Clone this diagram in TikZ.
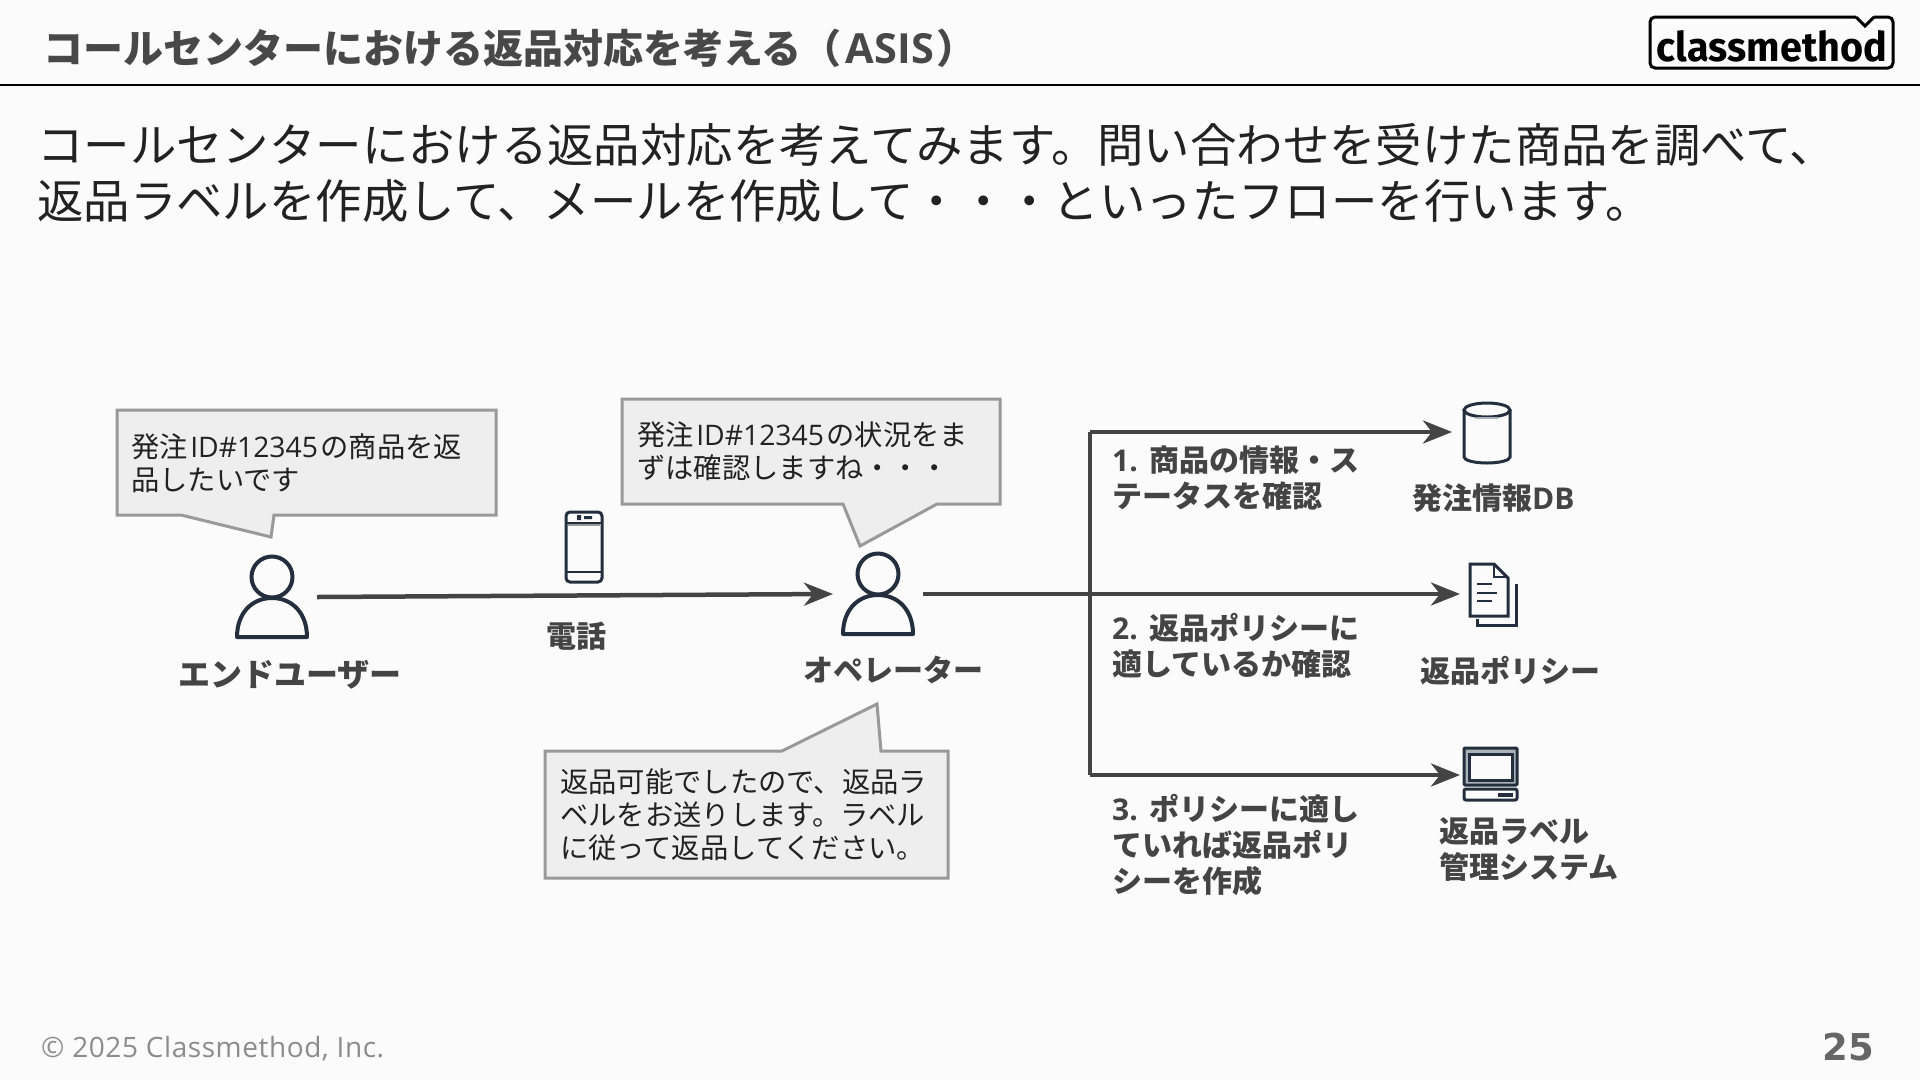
\documentclass[tikz,border=0pt]{standalone}
\usepackage{fontspec}
\usepackage{xcolor}
\usetikzlibrary{arrows.meta}
\setmainfont{Open Sans}
\newfontfamily\jp{Noto Sans CJK JP}
\newfontfamily\logofont{Fira Sans}
\newfontfamily\pagefont{DejaVu Sans}
\definecolor{pagebg}{RGB}{251,251,251}
\definecolor{titlegray}{RGB}{72,72,72}
\definecolor{bodyblack}{RGB}{34,34,34}
\definecolor{flowgray}{RGB}{68,68,68}
\definecolor{boxfill}{RGB}{238,238,238}
\definecolor{boxline}{RGB}{153,153,153}
\definecolor{iconink}{RGB}{35,47,62}
\definecolor{bezel}{RGB}{170,177,185}
\definecolor{footgray}{RGB}{140,140,140}
\definecolor{pagegray}{RGB}{102,102,102}
\tikzset{
    flow/.style={draw=flowgray, line width=4.5pt, -{Stealth[length=29pt,width=23pt,inset=9pt]}},
    trunk/.style={draw=flowgray, line width=4.5pt},
    bubble/.style={draw=boxline, fill=boxfill, line width=3pt, line join=miter},
    bubbletext/.style={anchor=west, inner sep=0pt, align=left, text=bodyblack, font=\jp\fontsize{28.3}{33}\selectfont},
    steplabel/.style={anchor=west, inner sep=0pt, align=left, text=flowgray, font=\jp\bfseries\fontsize{30}{36}\selectfont},
    icon/.style={draw=iconink, line width=3pt},
    pics/personicon/.style={code={
        \draw[icon, line width=4pt] (0,0) circle (20.5);
        \draw[icon, line width=4pt, line join=round] (-35,60) .. controls (-35,36) and (-20,21) .. (0,21) .. controls (20,21) and (35,36) .. (35,60) -- cycle;
        \coordinate (-left) at (-45,20);
        \coordinate (-right) at (45,20);
    }},
    pics/phoneicon/.style={code={
        \draw[icon, rounded corners=4pt] (-18,-35) rectangle (18,35);
        \draw[icon, line width=2pt] (-17,-24) -- (17,-24) (-17,25) -- (17,25);
        \fill[boxline] (-16,-23) rectangle (16,-21);
        \fill[iconink] (-7,-32) rectangle (-3,-27) (0,-31) rectangle (8,-28);
    }},
    pics/dbicon/.style={code={
        \draw[icon] (-23,0) -- (-23,47) arc[start angle=180, end angle=360, x radius=23, y radius=-6] -- (23,0);
        \draw[icon] (0,0) ellipse (23 and 7);
        \draw[bezel, line width=2pt] (-11,8) -- (11,8);
        \coordinate (-left) at (-35,22);
    }},
    pics/docicon/.style={code={
        \draw[icon, line join=miter] (0,0) -- (24,0) -- (38,14) -- (38,52) -- (0,52) -- cycle;
        \draw[icon, line width=2pt] (24,0) -- (24,13) -- (38,13);
        \draw[icon, line join=miter] (46,20) -- (46,61) -- (7,61) -- (7,55);
        \draw[icon, line width=2pt] (7,20) -- (22,20) (7,29) -- (27,29) (7,37) -- (22,37);
        \coordinate (-left) at (-10,30);
    }},
    pics/pcicon/.style={code={
        \draw[icon, fill=bezel, rounded corners=1pt] (0,0) rectangle (53,37);
        \draw[icon, fill=pagebg] (5,6) rectangle (48,32);
        \draw[icon, rounded corners=2pt] (0,41) rectangle (53,52);
        \fill[iconink] (34,45) rectangle (49,49);
        \coordinate (-left) at (-4,27);
    }},
}
\begin{document}
\begin{tikzpicture}[x=1pt, y=-1pt]
\useasboundingbox (0,0) rectangle (1920,1080);
\fill[pagebg] (0,0) rectangle (1920,1080);

\node[anchor=west, inner sep=0pt, text=titlegray, font=\bfseries\fontsize{40}{48}\selectfont] (title) at (43,48)
    {{\jp コールセンターにおける返品対応を考える（}\kern4pt{\fontsize{41.5}{48}\selectfont ASIS}\kern2pt{\jp ）}};
\draw[black, line width=1.5pt] (0,85) -- (1920,85);

\draw[black, line width=3pt, rounded corners=5pt] (1856,17) -- (1650,17) -- (1650,68) -- (1893,68) -- (1893,17) -- (1874,17);
\draw[black, line width=3pt, line join=miter] (1856,17) -- (1865,26) -- (1874,17);
\node[inner sep=0pt, text=black, font=\logofont\bfseries] (logo) at (1772,46)
    {\resizebox{230pt}{31pt}{classmethod}};

\node[anchor=west, inner sep=0pt, align=left, text=bodyblack, font=\jp\fontsize{46.4}{56}\selectfont] (lead) at (37,173)
    {コールセンターにおける返品対応を考えてみます。問い合わせを受けた商品を調べて、\\
     返品ラベルを作成して、メールを作成して・・・といったフローを行います。};

\draw[bubble] (117,410) -- (496,410) -- (496,515) -- (274,515) -- (271,537) -- (181,515) -- (117,515) -- cycle;
\node[bubbletext] (userbubble) at (131,463)
    {発注\kern2.5pt{\rmfamily ID\#12345}\kern2.5pt の商品を返\\品したいです};

\draw[bubble] (622,399) -- (1000,399) -- (1000,504) -- (937,504) -- (860,546) -- (843,504) -- (622,504) -- cycle;
\node[bubbletext] (opbubble) at (637,451)
    {発注\kern2.5pt{\rmfamily ID\#12345}\kern2.5pt の状況をま\\ずは確認しますね・・・};

\draw[bubble] (545,751) -- (782,751) -- (877,704) -- (881,751) -- (948,751) -- (948,878) -- (545,878) -- cycle;
\node[bubbletext] (replybubble) at (560,815)
    {返品可能でしたので、返品ラ\\ベルをお送りします。ラベル\\に従って返品してください。};

\pic (user) at (272,577) {personicon};
\pic (operator) at (878,574) {personicon};
\pic (phone) at (584,547) {phoneicon};
\pic (orderdb) at (1487,410) {dbicon};
\pic (policy) at (1470,564) {docicon};
\pic (labelsys) at (1464,748) {pcicon};

\coordinate (dbturn) at (1090,432);
\coordinate (pcturn) at (1090,775);

\draw[flow] (user-right) -- (operator-left);
\draw[flow] (operator-right) -- (policy-left);
\draw[trunk] (dbturn) -- (pcturn);
\draw[flow] (dbturn) -- (orderdb-left);
\draw[flow] (pcturn) -- (labelsys-left);

\node[steplabel, font=\jp\bfseries\fontsize{32}{36}\selectfont] (userlabel) at (178,675) {エンドユーザー};
\node[steplabel] (phonelabel) at (546,636) {電話};
\node[steplabel] (oplabel) at (803,670) {オペレーター};
\node[steplabel] (dblabel) at (1412,498) {発注情報{\rmfamily DB}};
\node[steplabel] (policylabel) at (1420,671) {返品ポリシー};
\node[steplabel] (syslabel) at (1439,849) {返品ラベル\\管理システム};

\node[steplabel] (step1) at (1112,478) {{\rmfamily 1.}\kern2pt{} 商品の情報・ス\\テータスを確認};
\node[steplabel] (step2) at (1112,646) {{\rmfamily 2.}\kern2pt{} 返品ポリシーに\\適しているか確認};
\node[steplabel] (step3) at (1112,845) {{\rmfamily 3.}\kern2pt{} ポリシーに適し\\ていれば返品ポリ\\シーを作成};

\node[anchor=west, inner sep=0pt, text=footgray, font=\addfontfeatures{LetterSpace=2}\fontsize{28}{32}\selectfont] (copyright) at (41,1049) {© 2025 Classmethod, Inc.};
\node[anchor=east, inner sep=0pt, text=pagegray, font=\pagefont\bfseries\fontsize{37}{44}\selectfont] (pageno) at (1874,1047) {25};
\end{tikzpicture}
\end{document}
